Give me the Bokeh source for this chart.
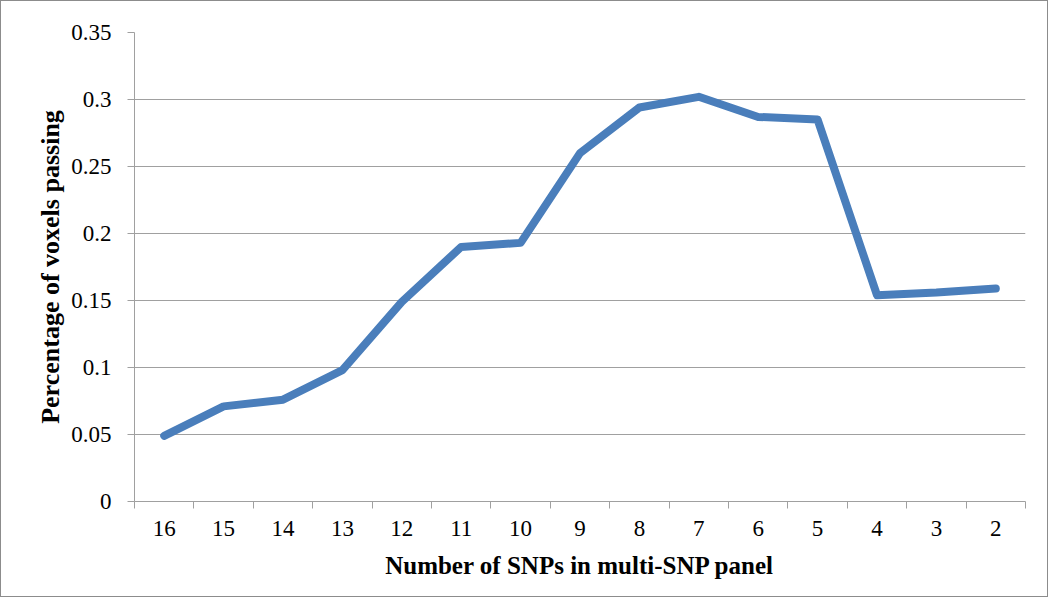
from bokeh.plotting import figure
from bokeh.models import FixedTicker, Range1d
from bokeh.embed import file_html
from bokeh.resources import INLINE
import numpy as np

categories = ["16", "15", "14", "13", "12", "11", "10", "9", "8", "7", "6", "5", "4", "3", "2"]
values = [0.049, 0.071, 0.076, 0.098, 0.149, 0.190, 0.193, 0.260, 0.294, 0.302,
          0.287, 0.285, 0.154, 0.156, 0.159]
y_ticks = [0, 0.05, 0.1, 0.15, 0.2, 0.25, 0.3, 0.35]
y_tick_labels = ["0", "0.05", "0.1", "0.15", "0.2", "0.25", "0.3", "0.35"]

n = len(categories)
xs = np.arange(n) + 0.5
FONT = "Liberation Serif"
GRAY = "#a0a0a0"

p = figure(width=1048, height=597, output_backend="svg", toolbar_location=None,
           x_range=Range1d(0, n), y_range=Range1d(0, 0.35),
           min_border_left=133, min_border_right=24, min_border_top=31, min_border_bottom=97)
p.outline_line_color = None
p.styles = {"border": "1px solid #8c8c8c", "box-sizing": "border-box"}

p.line(xs, values, line_color="#4a7ebb", line_width=8, line_join="round", line_cap="round")

# x axis: labels at category centres, ticks at category boundaries
xa = p.xaxis[0]
xa.ticker = FixedTicker(ticks=list(xs), minor_ticks=list(np.arange(n + 1)))
xa.major_label_overrides = {float(x): c for x, c in zip(xs, categories)}
xa.major_tick_line_color = None
xa.major_tick_out = 0
xa.major_tick_in = 0
xa.minor_tick_line_color = GRAY
xa.minor_tick_out = 7
xa.minor_tick_in = 0
xa.axis_line_color = GRAY
xa.major_label_text_font = FONT
xa.major_label_text_font_size = "23px"
xa.major_label_text_color = "#000000"
xa.major_label_standoff = 12
xa.axis_label = "Number of SNPs in multi-SNP panel"
xa.axis_label_text_font = FONT
xa.axis_label_text_font_size = "25px"
xa.axis_label_text_font_style = "bold"
xa.axis_label_text_color = "#000000"
xa.axis_label_standoff = 13

ya = p.yaxis[0]
ya.ticker = FixedTicker(ticks=y_ticks, minor_ticks=[])
ya.major_label_overrides = {float(t): l for t, l in zip(y_ticks, y_tick_labels)}
ya.major_tick_line_color = GRAY
ya.major_tick_out = 7
ya.major_tick_in = 0
ya.minor_tick_line_color = None
ya.axis_line_color = GRAY
ya.major_label_text_font = FONT
ya.major_label_text_font_size = "23px"
ya.major_label_text_color = "#000000"
ya.major_label_standoff = 16
ya.axis_label = "Percentage of voxels passing"
ya.axis_label_text_font = FONT
ya.axis_label_text_font_size = "26px"
ya.axis_label_text_font_style = "bold"
ya.axis_label_text_color = "#000000"
ya.axis_label_standoff = 3

p.xgrid.grid_line_color = None
p.ygrid.grid_line_color = GRAY
p.ygrid.grid_line_width = 1

open("out.html", "w").write(file_html(p, INLINE))
